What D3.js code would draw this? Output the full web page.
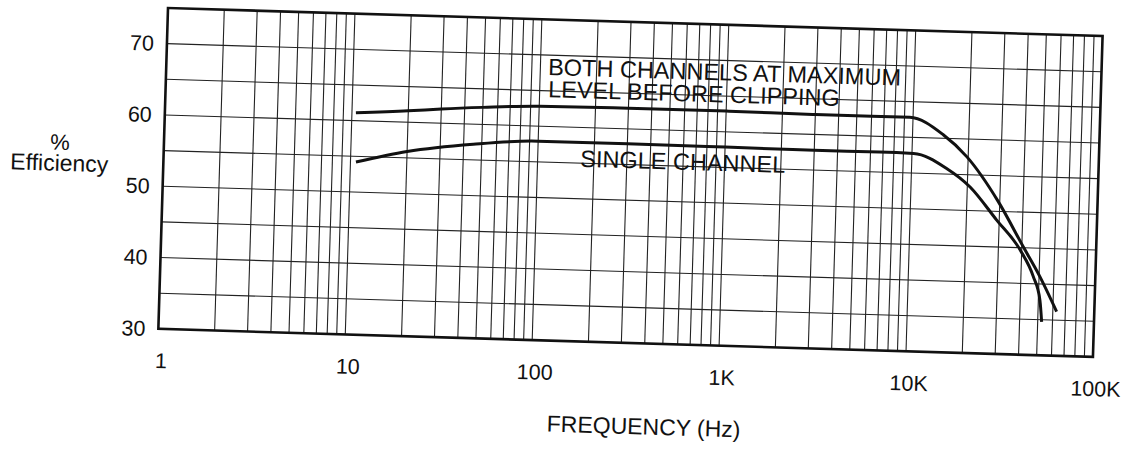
<!DOCTYPE html>
<html>
<head>
<meta charset="utf-8">
<script src="https://cdn.jsdelivr.net/npm/d3@7"></script>
<style>
  body { margin: 0; background: #fff; }
  svg text { font-family: "Liberation Sans", Arial, sans-serif; fill: #111; }
</style>
</head>
<body>
<svg id="chart"></svg>
<script>
// frequency ticks (Hz) and their printed labels
var xTicks = [1, 10, 100, 1000, 10000, 100000]
var xTickLabels = ["1", "10", "100", "1K", "10K", "100K"]
var yTicks = [30, 40, 50, 60, 70]
var yGrid = [35, 40, 45, 50, 55, 60, 65, 70]

// both channels at maximum level before clipping
var freqBoth = [10.5, 20, 30, 50, 100, 300, 1000, 3000, 6000, 9600, 14600, 19700, 29400, 40800, 50600, 62900]
var effBoth  = [61.1, 61.6, 62.0, 62.4, 62.8, 62.9, 62.9, 62.8, 62.8, 62.8, 60.5, 57.5, 51.4, 45.1, 41.0, 36.2]

// single channel
var freqSingle = [10.7, 20, 45, 100, 300, 1000, 3000, 6700, 10200, 15400, 20700, 29000, 39200, 46600, 51000, 52500]
var effSingle  = [54.2, 55.9, 57.2, 57.9, 57.9, 57.85, 57.8, 57.8, 57.75, 55.8, 53.3, 48.8, 44.7, 41.0, 37.7, 34.7]

var annotations = [
    {text: "BOTH CHANNELS AT MAXIMUM", f: 110, v: 67.2},
    {text: "LEVEL BEFORE CLIPPING", f: 111, v: 64.1},
    {text: "SINGLE CHANNEL", f: 169, v: 54.5}
]

var initGraph = function ()
{
    var screen = {width: 1127, height: 450}
    var origin = {x: 168, y: 8}
    var graph = {width: 935, height: 321}

    var svg = d3.select("#chart")
        .attr("width", screen.width)
        .attr("height", screen.height)

    // the scanned sheet is slightly skewed, so the whole plot is turned a bit
    var target = svg.append("g")
        .attr("transform", "translate(" + origin.x + "," + origin.y + ") rotate(1.72)")

    var xScale = d3.scaleLog()
        .domain([1, 100000])
        .range([0, graph.width])

    var yScale = d3.scaleLinear()
        .domain([30, 75])
        .range([graph.height, 0])

    // minor log grid: 1..9 in every decade
    var xGrid = []
    for (var k = 0; k < 5; k++)
        for (var m = 2; m <= 10; m++) xGrid.push(m * Math.pow(10, k))

    var grid = target.append("g")
        .attr("stroke", "#222")
        .attr("stroke-width", 1.1)

    grid.selectAll(".vg")
        .data(xGrid)
        .enter()
        .append("line")
        .attr("x1", function (d) { return xScale(d) })
        .attr("x2", function (d) { return xScale(d) })
        .attr("y1", 0)
        .attr("y2", graph.height)

    grid.selectAll(".hg")
        .data(yGrid)
        .enter()
        .append("line")
        .attr("x1", 0)
        .attr("x2", graph.width)
        .attr("y1", function (d) { return yScale(d) })
        .attr("y2", function (d) { return yScale(d) })

    target.append("rect")
        .attr("width", graph.width)
        .attr("height", graph.height)
        .attr("fill", "none")
        .attr("stroke", "#111")
        .attr("stroke-width", 2.6)

    drawCurves(target, xScale, yScale)
    drawAxis(target, graph, xScale, yScale)
    drawLabels(target, xScale, yScale)
}

var drawCurves = function (target, xScale, yScale)
{
    var line = d3.line()
        .x(function (d) { return xScale(d[0]) })
        .y(function (d) { return yScale(d[1]) })
        .curve(d3.curveMonotoneX)

    var series = [d3.zip(freqBoth, effBoth), d3.zip(freqSingle, effSingle)]

    target.selectAll(".curve")
        .data(series)
        .enter()
        .append("path")
        .attr("d", line)
        .attr("fill", "none")
        .attr("stroke", "#111")
        .attr("stroke-width", 3)
}

var drawAxis = function (target, graph, xScale, yScale)
{
    var xAxis = d3.axisBottom(xScale)
        .tickValues(xTicks)
        .tickFormat(function (d, i) { return xTickLabels[i] })
        .tickSize(0)
        .tickPadding(24)

    var yAxis = d3.axisLeft(yScale)
        .tickValues(yTicks)
        .tickSize(0)
        .tickPadding(13)

    var gx = target.append("g")
        .attr("transform", "translate(3," + graph.height + ")")
        .call(xAxis)

    var gy = target.append("g")
        .call(yAxis)

    gx.select(".domain").remove()
    gy.select(".domain").remove()
    target.selectAll(".tick text")
        .attr("font-family", null)
        .style("font-size", "21.5px")
        .attr("fill", "#111")
}

var drawLabels = function (target, xScale, yScale)
{
    target.selectAll(".note")
        .data(annotations)
        .enter()
        .append("text")
        .text(function (d) { return d.text })
        .attr("x", function (d) { return xScale(d.f) })
        .attr("y", function (d) { return yScale(d.v) })
        .style("font-size", "23.5px")

    target.append("text")
        .text("FREQUENCY (Hz)")
        .attr("text-anchor", "middle")
        .attr("x", 488)
        .attr("y", 412)
        .style("font-size", "23px")

    target.append("text")
        .text("%")
        .attr("text-anchor", "middle")
        .attr("x", -104)
        .attr("y", 145)
        .style("font-size", "22px")

    target.append("text")
        .text("Efficiency")
        .attr("text-anchor", "middle")
        .attr("x", -104)
        .attr("y", 166)
        .style("font-size", "23px")
}

initGraph()
</script>
</body>
</html>
